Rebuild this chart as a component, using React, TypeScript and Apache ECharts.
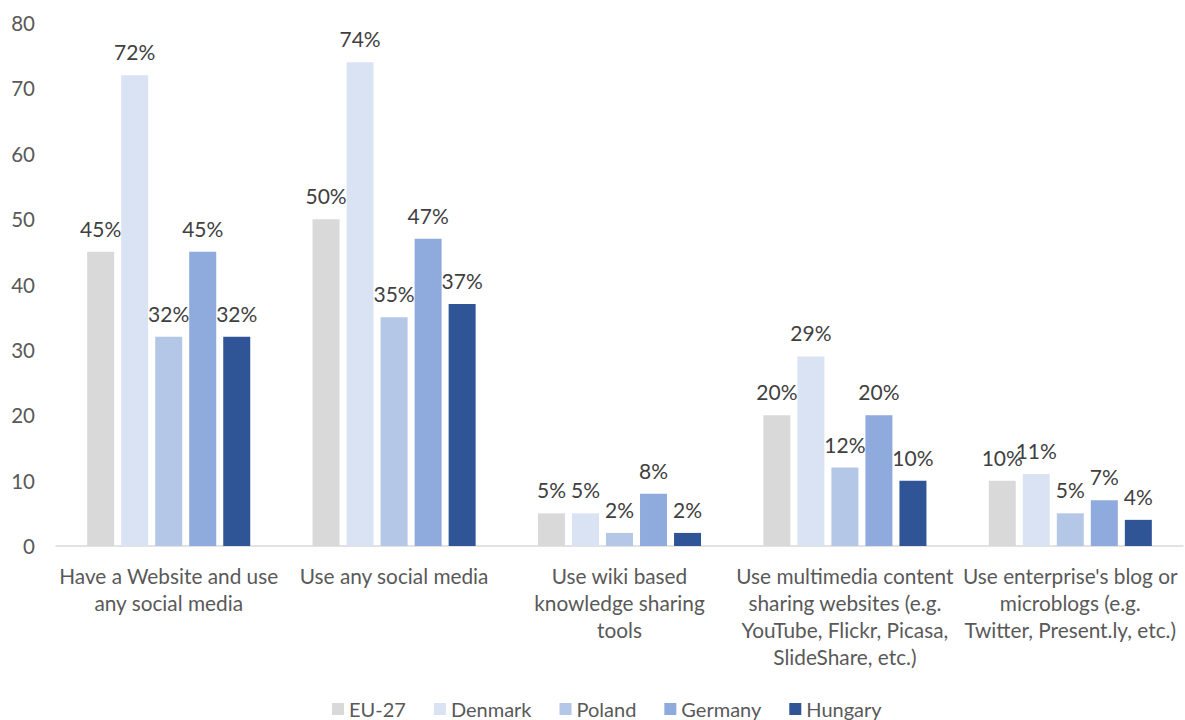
import React, { useEffect, useRef } from "react";
import * as echarts from "echarts";

const categories = [
  "Have a Website and use\nany social media",
  "Use any social media",
  "Use wiki based\nknowledge sharing\ntools",
  "Use multimedia content\nsharing websites (e.g.\nYouTube, Flickr, Picasa,\nSlideShare, etc.)",
  "Use enterprise's blog or\nmicroblogs (e.g.\nTwitter, Present.ly, etc.)",
];
const seriesNames = ["EU-27", "Denmark", "Poland", "Germany", "Hungary"];
const eu27 = [45, 50, 5, 20, 10];
const denmark = [72, 74, 5, 29, 11];
const poland = [32, 35, 2, 12, 5];
const germany = [45, 47, 8, 20, 7];
const hungary = [32, 37, 2, 10, 4];
const colors = ["#D9D9D9", "#DAE3F3", "#B4C7E7", "#8FAADC", "#2F5597"];
const yTicks = [0, 10, 20, 30, 40, 50, 60, 70, 80];

const FONT = "Lato";

export default function App() {
  const ref = useRef<HTMLDivElement>(null);
  useEffect(() => {
    if (!ref.current) return;
    const chart = echarts.init(ref.current, null, { renderer: "svg" });
    const data = [eu27, denmark, poland, germany, hungary];
    chart.setOption({
      animation: false,
      textStyle: { fontFamily: FONT },
      grid: { left: 56, right: 2, top: 23, bottom: 174, containLabel: false },
      legend: {
        top: 694,
        left: 327,
        itemWidth: 12,
        itemHeight: 12,
        itemGap: 28,
        icon: "rect",
        textStyle: { fontFamily: FONT, fontSize: 20, color: "#595959" },
        data: seriesNames,
      },
      xAxis: {
        type: "category",
        data: categories,
        axisLine: { lineStyle: { color: "#D9D9D9", width: 1.5 } },
        axisTick: { show: false },
        axisLabel: {
          interval: 0,
          color: "#595959",
          fontFamily: FONT,
          fontSize: 20.8,
          lineHeight: 27,
          margin: 16,
        },
      },
      yAxis: {
        type: "value",
        min: yTicks[0],
        max: yTicks[yTicks.length - 1],
        interval: 10,
        axisLine: { show: false },
        axisTick: { show: false },
        splitLine: { show: false },
        axisLabel: { color: "#595959", fontFamily: FONT, fontSize: 20.5, margin: 21 },
      },
      series: seriesNames.map((name, i) => ({
        name,
        type: "bar",
        data: data[i],
        barWidth: 27,
        barGap: "26%",
        itemStyle: { color: colors[i] },
        label: {
          show: true,
          position: "top",
          distance: 13,
          formatter: "{c}%",
          color: "#404040",
          fontFamily: FONT,
          fontSize: 21,
        },
      })),
    });
    return () => chart.dispose();
  }, []);
  return (
    <div
      ref={ref}
      style={{ position: "fixed", left: 0, top: 0, width: 1185, height: 720, background: "#fff" }}
    />
  );
}
